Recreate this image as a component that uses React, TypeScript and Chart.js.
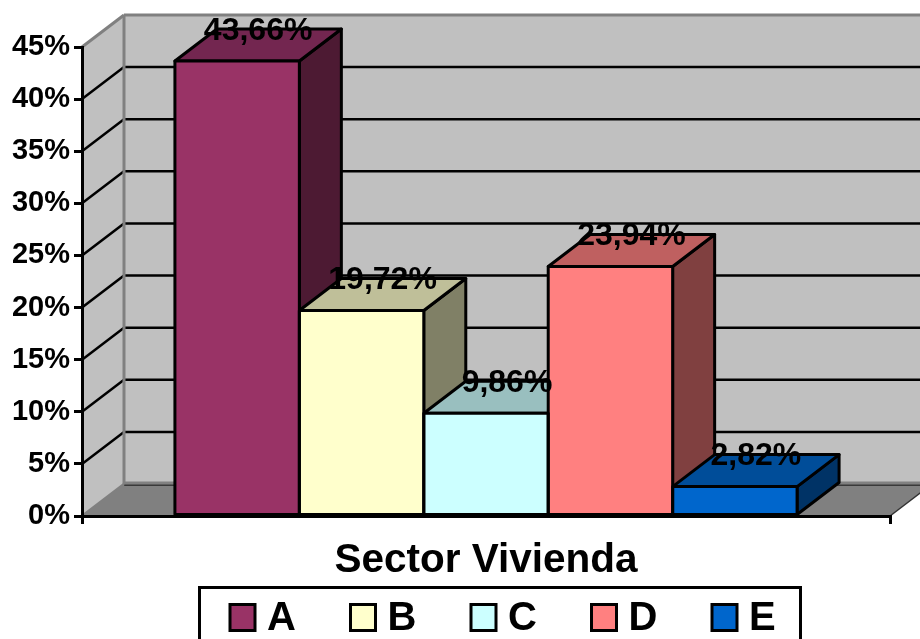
import React, { useEffect, useRef } from "react";
import { Chart, registerables } from "chart.js";

Chart.register(...registerables);

const categories = ["Sector Vivienda"];
const seriesNames = ["A", "B", "C", "D", "E"];
const seriesValues = [43.66, 19.72, 9.86, 23.94, 2.82];
const frontColors = ["#993366", "#ffffcc", "#ccffff", "#ff8080", "#0066cc"];
const topColors = ["#732650", "#bfbf99", "#99bfbf", "#bf6060", "#004d99"];
const sideColors = ["#4d1a33", "#808066", "#667f7f", "#804040", "#003366"];
const yTicks = [0, 5, 10, 15, 20, 25, 30, 35, 40, 45];

const DX = 42;
const DY = -32;
const FONT = '"Liberation Sans", Arial, sans-serif';

function poly(ctx: CanvasRenderingContext2D, pts: number[][], fill: string, stroke?: string, lw = 1) {
  ctx.beginPath();
  pts.forEach((p, i) => (i ? ctx.lineTo(p[0], p[1]) : ctx.moveTo(p[0], p[1])));
  ctx.closePath();
  ctx.fillStyle = fill;
  ctx.fill();
  if (stroke) {
    ctx.strokeStyle = stroke;
    ctx.lineWidth = lw;
    ctx.lineJoin = "round";
    ctx.stroke();
  }
}

function line(ctx: CanvasRenderingContext2D, x1: number, y1: number, x2: number, y2: number, c: string, lw: number) {
  ctx.beginPath();
  ctx.moveTo(x1, y1);
  ctx.lineTo(x2, y2);
  ctx.strokeStyle = c;
  ctx.lineWidth = lw;
  ctx.stroke();
}

const wallsPlugin = {
  id: "walls",
  beforeDraw(chart: any) {
    const { ctx, chartArea: a, scales } = chart;
    const y = scales.y;
    const top = y.getPixelForValue(45);
    const bot = y.getPixelForValue(0);
    ctx.save();
    poly(ctx, [[a.left + DX, top + DY], [a.right + DX + 40, top + DY], [a.right + DX + 40, bot + DY], [a.left + DX, bot + DY]], "#c0c0c0");
    poly(ctx, [[a.left, top], [a.left + DX, top + DY], [a.left + DX, bot + DY], [a.left, bot]], "#c0c0c0");
    poly(ctx, [[a.left, bot], [a.right, bot], [a.right + DX, bot + DY], [a.left + DX, bot + DY]], "#808080");
    yTicks.forEach((t) => {
      const py = y.getPixelForValue(t);
      if (t === 45) return;
      if (t === 0) {
        line(ctx, a.left + DX, py + DY + 1, a.right + DX, py + DY + 1, "#222222", 1.5);
        line(ctx, a.left + DX, py + DY - 1, a.right + DX + 40, py + DY - 1, "#808080", 3);
        return;
      }
      line(ctx, a.left + DX, py + DY, a.right + DX + 40, py + DY, "#000000", 2.5);
      line(ctx, a.left, py, a.left + DX, py + DY, "#000000", 2.5);
    });
    line(ctx, a.left + DX, top + DY, a.right + DX + 40, top + DY, "#808080", 3);
    line(ctx, a.left + DX, top + DY, a.left + DX, bot + DY, "#808080", 3);
    line(ctx, a.left, top, a.left + DX, top + DY, "#808080", 3);
    line(ctx, a.left, bot, a.left + DX, bot + DY, "#808080", 2.5);
    line(ctx, a.right, bot, a.right + DX, bot + DY, "#333333", 1.5);
    ctx.restore();
  },
  beforeDatasetsDraw(chart: any) {
    const { ctx } = chart;
    ctx.save();
    chart.data.datasets.forEach((_: any, i: number) => {
      const bar = chart.getDatasetMeta(i).data[0];
      const l = bar.x - bar.width / 2;
      const r = bar.x + bar.width / 2;
      const t = bar.y;
      const b = bar.base;
      poly(ctx, [[r, t], [r + DX, t + DY], [r + DX, b + DY], [r, b]], sideColors[i], "#000000", 3);
      poly(ctx, [[l, t], [l + DX, t + DY], [r + DX, t + DY], [r, t]], topColors[i], "#000000", 3);
    });
    ctx.restore();
  },
  afterDatasetsDraw(chart: any) {
    const { ctx } = chart;
    ctx.save();
    ctx.strokeStyle = "#000000";
    ctx.lineWidth = 3;
    ctx.lineJoin = "round";
    chart.data.datasets.forEach((_: any, i: number) => {
      const bar = chart.getDatasetMeta(i).data[0];
      ctx.strokeRect(bar.x - bar.width / 2, bar.y, bar.width, bar.base - bar.y);
    });
    ctx.fillStyle = "#000000";
    ctx.font = `bold 32px ${FONT}`;
    ctx.textAlign = "center";
    ctx.textBaseline = "middle";
    chart.data.datasets.forEach((ds: any, i: number) => {
      const bar = chart.getDatasetMeta(i).data[0];
      const text = ds.data[0].toFixed(2).replace(".", ",") + "%";
      ctx.fillText(text, bar.x + DX / 2, bar.y + DY + 2);
    });
    // legend
    ctx.lineJoin = "miter";
    ctx.strokeRect(199.5, 587.5, 601, 60);
    ctx.font = `bold 40px ${FONT}`;
    ctx.textAlign = "left";
    chart.data.datasets.forEach((ds: any, i: number) => {
      const x = 230 + i * 120.5;
      ctx.fillStyle = ds.backgroundColor;
      ctx.fillRect(x, 604.5, 25, 26);
      ctx.strokeRect(x, 604.5, 25, 26);
      ctx.fillStyle = "#000000";
      ctx.fillText(ds.label, x + 37, 619);
    });
    ctx.restore();
  },
};

export default function App() {
  const ref = useRef<HTMLCanvasElement>(null);
  useEffect(() => {
    const chart = new Chart(ref.current as HTMLCanvasElement, {
      type: "bar",
      data: {
        labels: categories,
        datasets: seriesNames.map((name, i) => ({
          label: name,
          data: [seriesValues[i]],
          backgroundColor: frontColors[i],
          borderWidth: 0,
          categoryPercentage: 0.77,
          barPercentage: 1,
        })),
      },
      options: {
        responsive: false,
        animation: false,
        events: [],
        layout: { padding: { top: 47, right: 30, bottom: 0, left: 0 } },
        plugins: { legend: { display: false }, tooltip: { enabled: false }, title: { display: false } },
        scales: {
          x: {
            ticks: { color: "#000000", font: { family: FONT, size: 40.5, weight: "bold" }, padding: 13, maxRotation: 0 },
            grid: { drawOnChartArea: false, drawTicks: true, tickLength: 8, color: "#000000", lineWidth: 3 },
            border: { color: "#000000", width: 3 },
            afterFit(scale: any) {
              scale.height = 123;
            },
          },
          y: {
            min: 0,
            max: 45,
            afterBuildTicks(scale: any) {
              scale.ticks = yTicks.map((value) => ({ value }));
            },
            ticks: {
              color: "#000000",
              font: { family: FONT, size: 29, weight: "bold" },
              padding: 4,
              callback: (v: any) => `${v}%`,
            },
            grid: { drawOnChartArea: false, drawTicks: true, tickLength: 8, color: "#000000", lineWidth: 3 },
            border: { color: "#000000", width: 3 },
            afterFit(scale: any) {
              scale.width = 82;
            },
          },
        },
      },
      plugins: [wallsPlugin],
    } as any);
    return () => chart.destroy();
  }, []);
  return (
    <div style={{ position: "absolute", left: 0, top: 0, width: 920, height: 639, overflow: "hidden", background: "#ffffff" }}>
      <canvas ref={ref} width={920} height={639} style={{ display: "block" }} />
    </div>
  );
}
